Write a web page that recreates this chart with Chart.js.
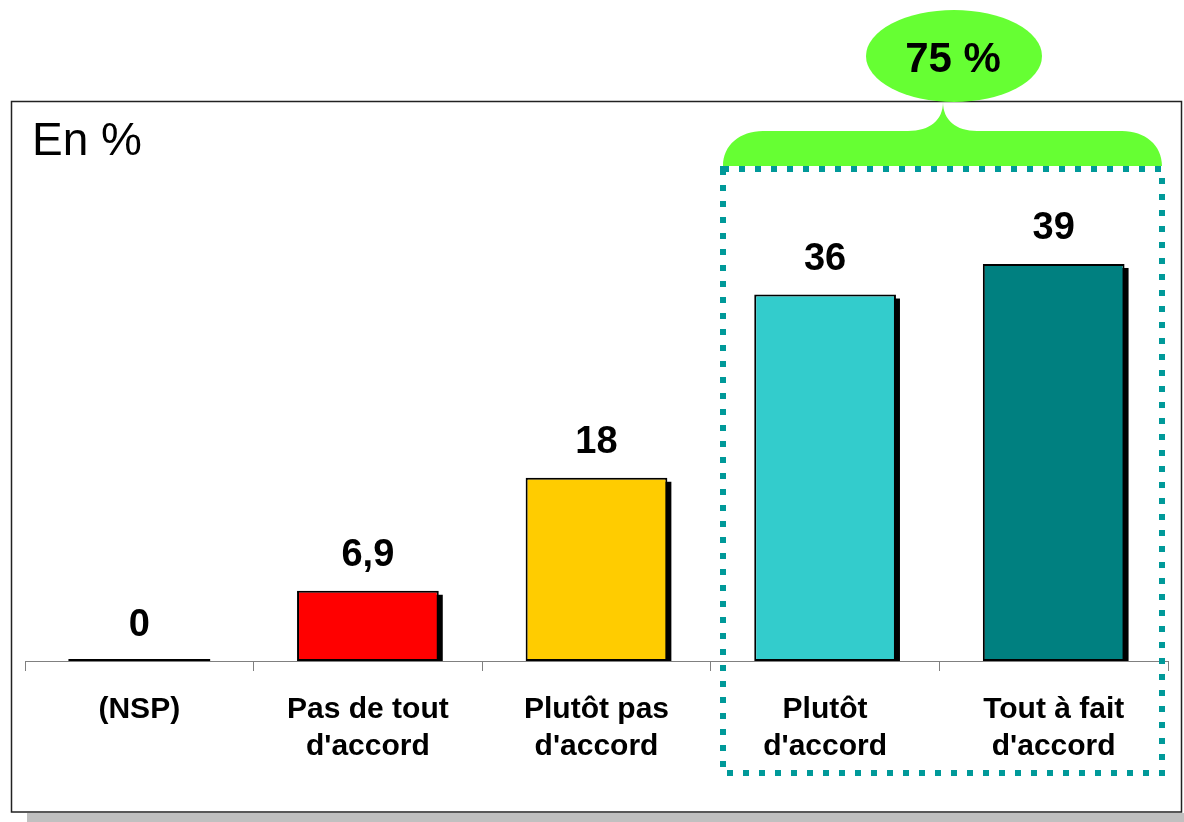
<!DOCTYPE html>
<html>
<head>
<meta charset="utf-8">
<title>En %</title>
<script src="https://cdn.jsdelivr.net/npm/chart.js@4"></script>
<style>
  html, body { margin: 0; padding: 0; background: #fff; }
  canvas { display: block; }
</style>
</head>
<body>
<canvas id="opinionChart" width="1184" height="822"></canvas>
<script>
// Data
const categories = [["(NSP)"], ["Pas de tout", "d'accord"], ["Plutôt pas", "d'accord"], ["Plutôt", "d'accord"], ["Tout à fait", "d'accord"]];
const values = [0, 6.9, 18, 36, 39];
const barColors = ["#000000", "#FF0000", "#FFCC00", "#33CCCC", "#008080"];
const totalLabel = "75 %";
const unitLabel = "En %";

const FONT = "'Liberation Sans', Arial, sans-serif";

// Frame, title, shadows, value labels and the green bracket
const decorations = {
  id: "decorations",
  beforeDraw(chart) {
    const ctx = chart.ctx;
    ctx.save();
    ctx.fillStyle = "#fff";
    ctx.fillRect(0, 0, chart.width, chart.height);
    // grey drop shadow of the frame
    ctx.fillStyle = "#C0C0C0";
    ctx.fillRect(27, 813, chart.width - 27, 9);
    ctx.strokeStyle = "#222";
    ctx.lineWidth = 1.5;
    ctx.strokeRect(11.5, 101.5, 1170, 710.5);
    ctx.fillStyle = "#000";
    ctx.font = "46px " + FONT;
    ctx.textBaseline = "alphabetic";
    ctx.fillText(unitLabel, 32, 155);
    ctx.restore();
  },
  beforeDatasetsDraw(chart) {
    const ctx = chart.ctx;
    const meta = chart.getDatasetMeta(0);
    ctx.save();
    ctx.fillStyle = "#000";
    meta.data.forEach((bar, i) => {
      if (values[i] === 0) return;
      const w = bar.width;
      ctx.fillRect(bar.x - w / 2 + 4, bar.y + 4, w, bar.base - bar.y - 4);
    });
    ctx.restore();
  },
  afterDatasetsDraw(chart) {
    const ctx = chart.ctx;
    const meta = chart.getDatasetMeta(0);
    ctx.save();
    meta.data.forEach((bar, i) => {
      if (values[i] === 0) {
        ctx.strokeStyle = "#000";
        ctx.lineWidth = 2;
        ctx.beginPath();
        ctx.moveTo(bar.x - bar.width / 2, bar.base - 1);
        ctx.lineTo(bar.x + bar.width / 2, bar.base - 1);
        ctx.stroke();
      }
      ctx.fillStyle = "#000";
      ctx.font = "bold 38px " + FONT;
      ctx.textAlign = "center";
      ctx.textBaseline = "alphabetic";
      ctx.fillText(String(values[i]).replace(".", ","), bar.x, bar.y - 25);
    });
    ctx.restore();
  },
  afterDraw(chart) {
    const ctx = chart.ctx;
    ctx.save();
    // green bracket
    ctx.fillStyle = "#66FF33";
    ctx.beginPath();
    ctx.moveTo(723, 166);
    ctx.bezierCurveTo(723, 145, 740, 131, 763, 131);
    ctx.lineTo(908, 131);
    ctx.bezierCurveTo(930, 131, 943, 120, 943, 102);
    ctx.bezierCurveTo(943, 120, 956, 131, 977, 131);
    ctx.lineTo(1122, 131);
    ctx.bezierCurveTo(1145, 131, 1162, 145, 1162, 166);
    ctx.closePath();
    ctx.fill();
    // bubble
    ctx.beginPath();
    ctx.ellipse(954, 56, 88, 46, 0, 0, Math.PI * 2);
    ctx.fill();
    ctx.fillStyle = "#000";
    ctx.font = "bold 42px " + FONT;
    ctx.textAlign = "center";
    ctx.textBaseline = "alphabetic";
    ctx.fillText(totalLabel, 953, 72);
    // dotted group box
    ctx.strokeStyle = "#009999";
    ctx.lineWidth = 6;
    ctx.setLineDash([6, 10]);
    ctx.strokeRect(723, 169, 439, 604);
    ctx.restore();
  }
};

const ctx = document.getElementById("opinionChart").getContext("2d");
new Chart(ctx, {
  type: "bar",
  data: {
    labels: categories,
    datasets: [
      {
        data: values,
        backgroundColor: barColors,
        borderColor: "#000",
        borderWidth: 2,
        borderSkipped: false,
        barPercentage: 0.62,
        categoryPercentage: 1,
      },
    ],
  },
  options: {
    responsive: false,
    animation: false,
    layout: {
      padding: { left: 25, right: 16, top: 152, bottom: 0 },
    },
    plugins: {
      legend: { display: false },
      tooltip: { enabled: false },
    },
    scales: {
      y: {
        display: false,
        min: 0,
        max: 50,
      },
      x: {
        afterFit: (scale) => {
          scale.height = 161;
        },
        grid: {
          offset: true,
          drawOnChartArea: false,
          drawTicks: true,
          tickLength: 10,
          color: "#808080",
        },
        border: { display: true, color: "#808080", width: 1 },
        ticks: {
          color: "#000",
          padding: 20,
          maxRotation: 0,
          autoSkip: false,
          font: { family: FONT, size: 30, weight: "bold", lineHeight: 1.233 },
        },
      },
    },
  },
  plugins: [decorations],
});
</script>
</body>
</html>
